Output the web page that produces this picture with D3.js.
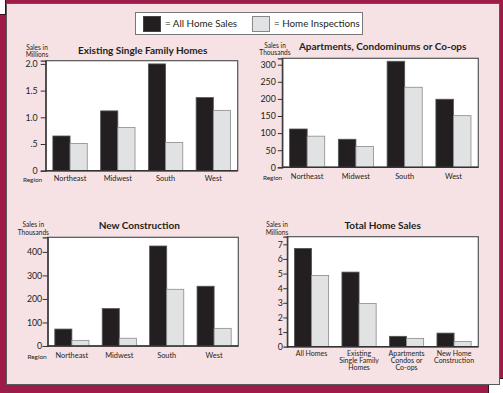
<!DOCTYPE html>
<html><head><meta charset="utf-8">
<script src="https://cdn.jsdelivr.net/npm/d3@7"></script>
<style>
html,body{margin:0;padding:0;background:#fff;}
svg text{font-family:Lato,"Open Sans",sans-serif;fill:#231f20;}
</style></head>
<body>
<svg id="c" width="503" height="393"></svg>
<script>
// ---------------- data ----------------
const seriesNames = ["= All Home Sales", "= Home Inspections"];
const regions = ["Northeast", "Midwest", "South", "West"];

const singleFamilySales = [0.65, 1.12, 2.0, 1.37];
const singleFamilyInspections = [0.51, 0.81, 0.53, 1.13];
const singleFamilyTicks = [0, 0.5, 1.0, 1.5, 2.0];
const singleFamilyTickLabels = ["0", ".5", "1.0", "1.5", "2.0"];

const apartmentSales = [112, 82, 310, 199];
const apartmentInspections = [91, 61, 234, 151];
const apartmentTicks = [0, 50, 100, 150, 200, 250, 300];
const apartmentTickLabels = ["0", "50", "100", "150", "200", "250", "300"];

const newConstructionSales = [72, 159, 425, 254];
const newConstructionInspections = [24, 33, 241, 75];
const newConstructionTicks = [0, 100, 200, 300, 400];
const newConstructionTickLabels = ["0", "100", "200", "300", "400"];

const totalCategories = ["All Homes", "Existing Single Family Homes", "Apartments Condos or Co-ops", "New Home Construction"];
const totalCategoryLines = [["All Homes"], ["Existing", "Single Family", "Homes"], ["Apartments", "Condos or", "Co-ops"], ["New Home", "Construction"]];
const totalSales = [6.72, 5.1, 0.71, 0.93];
const totalInspections = [4.87, 2.96, 0.57, 0.36];
const totalTicks = [0, 1, 2, 3, 4, 5, 6, 7];
const totalTickLabels = ["0", "1", "2", "3", "4", "5", "6", "7"];

// ---------------- styles ----------------
const CRIMSON = "#9e1c49", PINK = "#f6e1e4", DARK = "#231f20", LIGHT = "#e1e2e4";
const svg = d3.select("#c");

// frame
svg.append("rect").attr("x", 5.5).attr("y", -1).attr("width", 499).attr("height", 379.5)
  .attr("fill", CRIMSON).attr("stroke", "#3a0c1c").attr("stroke-width", 1);
svg.append("rect").attr("x", -1).attr("y", 14.5).attr("width", 489.5).attr("height", 380)
  .attr("fill", CRIMSON).attr("stroke", "#3a0c1c").attr("stroke-width", 1);
svg.append("rect").attr("x", 6.5).attr("y", 3.5).attr("width", 493).attr("height", 381)
  .attr("fill", PINK).attr("stroke", "#5a5a5a").attr("stroke-width", 1);

// legend
const lg = svg.append("g");
lg.append("rect").attr("x", 135.5).attr("y", 12.5).attr("width", 227).attr("height", 22)
  .attr("fill", "#fff").attr("stroke", "#777");
const legendItems = [{x: 143, color: DARK, stroke: "#444"}, {x: 252, color: LIGHT, stroke: "#888"}];
legendItems.forEach((it, i) => {
  lg.append("rect").attr("x", it.x + 0.5).attr("y", 16.5).attr("width", 17).attr("height", 15)
    .attr("fill", it.color).attr("stroke", it.stroke);
  lg.append("text").attr("x", it.x + 22).attr("y", 26.7).attr("font-size", 9.8)
    .text(seriesNames[i]);
});

function panel(o) {
  const g = svg.append("g");
  const y = d3.scaleLinear().domain([0, o.max]).range([o.base, o.top]);
  const x = d3.scaleBand().domain(o.cats).range([o.left, o.right]).paddingInner(0.28).paddingOuter(0.15);
  const xs = d3.scaleBand().domain([0, 1]).range([0, x.bandwidth()]);
  g.append("rect").attr("x", o.left).attr("y", o.top).attr("width", o.right - o.left)
    .attr("height", o.base - o.top).attr("fill", "#fff").attr("stroke", "#555").attr("stroke-width", 1.2);
  const series = [o.sales, o.insp];
  const colors = [DARK, LIGHT], strokes = ["#555", "#8a8a8a"];
  series.forEach((vals, s) => {
    g.selectAll(null).data(vals).join("rect")
      .attr("x", (d, i) => x(o.cats[i]) + xs(s))
      .attr("y", d => y(d))
      .attr("width", xs.bandwidth())
      .attr("height", d => y(0) - y(d))
      .attr("fill", colors[s]).attr("stroke", strokes[s]).attr("stroke-width", 0.8);
  });
  g.append("line").attr("x1", o.left).attr("x2", o.right).attr("y1", o.base).attr("y2", o.base)
    .attr("stroke", "#333").attr("stroke-width", 1.4);
  const ax = g.append("g").attr("transform", `translate(${o.left},0)`)
    .call(d3.axisLeft(y).tickValues(o.ticks).tickFormat((d, i) => o.tickLabels[i])
      .tickSize(o.tickSize).tickPadding(o.tickPad));
  ax.select(".domain").attr("stroke", "#333").attr("stroke-width", 1.2);
  ax.selectAll(".tick line").attr("stroke", "#333");
  ax.selectAll(".tick text").attr("font-size", 8.8).attr("font-family", "Lato,sans-serif").attr("fill", DARK);
  if (o.noZeroTick) ax.selectAll(".tick").filter(d => d === 0).select("line").remove();
  // category labels
  o.catLines.forEach((lines, i) => {
    lines.forEach((ln, j) => {
      g.append("text").attr("x", x(o.cats[i]) + x.bandwidth() / 2).attr("y", o.catY + j * o.lineGap)
        .attr("text-anchor", "middle").attr("font-size", o.catSize).text(ln);
    });
  });
  if (o.regionX !== undefined)
    g.append("text").attr("x", o.regionX).attr("y", o.catY + 1).attr("text-anchor", "middle")
      .attr("font-size", 6.4).text("Region");
  // title
  g.append("text").attr("x", o.titleX).attr("y", o.titleY).attr("text-anchor", "middle")
    .attr("font-size", 10).attr("font-weight", "bold").text(o.title);
  // unit label
  o.unit.forEach((u, j) => {
    g.append("text").attr("x", o.unitX).attr("y", o.unitY + j * 7.4).attr("text-anchor", "middle")
      .attr("font-size", 6.6).text(u);
  });
}

panel({title: "Existing Single Family Homes", titleX: 142.7, titleY: 54.2,
  unit: ["Sales in", "Millions"], unitX: 37, unitY: 49.5,
  left: 45.7, right: 237.7, top: 60.7, base: 170.7, max: 2.06,
  cats: regions, catLines: regions.map(r => [r]), catY: 181, catSize: 7.4, lineGap: 0, regionX: 32.5,
  sales: singleFamilySales, insp: singleFamilyInspections,
  ticks: singleFamilyTicks, tickLabels: singleFamilyTickLabels, tickSize: 5, tickPad: 3});

panel({title: "Apartments, Condominums or Co-ops", titleX: 382.7, titleY: 49.6,
  unit: ["Sales in", "Thousands"], unitX: 275, unitY: 47.5,
  left: 282.3, right: 478.3, top: 58.3, base: 167.3, max: 318.7,
  cats: regions, catLines: regions.map(r => [r]), catY: 178.8, catSize: 7.4, lineGap: 0, regionX: 272.5,
  sales: apartmentSales, insp: apartmentInspections,
  ticks: apartmentTicks, tickLabels: apartmentTickLabels, tickSize: 4.5, tickPad: 2});

panel({title: "New Construction", titleX: 139.3, titleY: 229.2,
  unit: ["Sales in", "Thousands"], unitX: 33.3, unitY: 227.3,
  left: 47.7, right: 238.3, top: 237.3, base: 346, max: 462,
  cats: regions, catLines: regions.map(r => [r]), catY: 358, catSize: 7.4, lineGap: 0, regionX: 37,
  sales: newConstructionSales, insp: newConstructionInspections,
  ticks: newConstructionTicks, tickLabels: newConstructionTickLabels, tickSize: 5, tickPad: 0.5});

panel({title: "Total Home Sales", titleX: 382.7, titleY: 229.2,
  unit: ["Sales in", "Millions"], unitX: 277, unitY: 227.3,
  left: 287.3, right: 478.3, top: 236.7, base: 346.7, max: 7.52,
  cats: totalCategories, catLines: totalCategoryLines, catY: 355.8, catSize: 7, lineGap: 7.1,
  sales: totalSales, insp: totalInspections, noZeroTick: true,
  ticks: totalTicks, tickLabels: totalTickLabels, tickSize: 4, tickPad: 0.5});
</script>
</body></html>
